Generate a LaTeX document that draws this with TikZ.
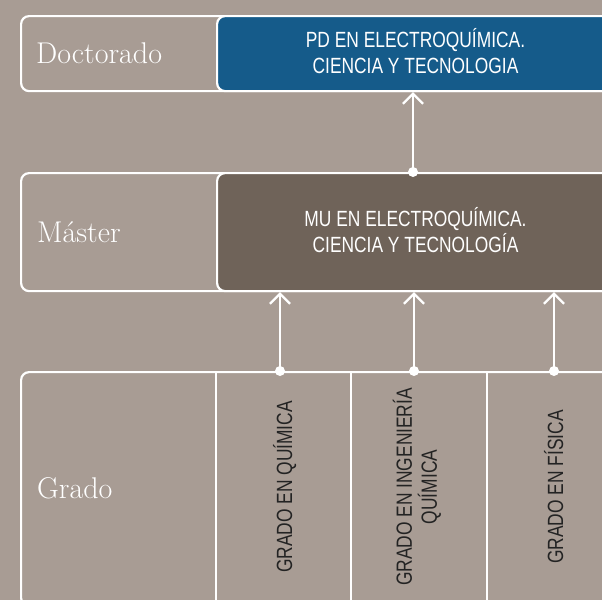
\documentclass[tikz,border=0pt]{standalone}
\usepackage{fontspec}
\usetikzlibrary{arrows.meta}
\newfontfamily\condfont[FakeStretch=0.79]{Liberation Sans}
\definecolor{bgcol}{RGB}{168,156,148}
\definecolor{pdblue}{RGB}{21,91,138}
\definecolor{mubrown}{RGB}{111,99,89}
\definecolor{darktext}{RGB}{35,35,35}
\tikzset{
  rowbox/.style={draw=white, line width=2.2pt, rounded corners=8pt, anchor=north west, inner sep=0pt},
  progbox/.style={rowbox},
  levellabel/.style={anchor=base west, text=white, inner sep=0pt, font=\fontsize{30}{34}\selectfont},
  progtext/.style={text=white, align=center, inner sep=0pt, font={\condfont\fontsize{22}{25.5}\selectfont}},
  gradotext/.style={text=darktext, align=center, inner sep=0pt, rotate=90, font={\condfont\fontsize{22}{25}\selectfont}},
  sepline/.style={draw=white, line width=2.2pt},
  dotnode/.style={circle, fill=white, inner sep=0pt, minimum size=10pt},
  conn/.style={draw=white, line width=2.2pt, -{Straight Barb[length=10pt, width=20pt]}}
}
\begin{document}
\begin{tikzpicture}[x=1pt, y=-1pt]
\clip (0,0) rectangle (602,600);
\fill[bgcol] (0,0) rectangle (602,600);
% Doctorado row
\node[rowbox, minimum width=600pt, minimum height=75pt] (docrow) at (20,15) {};
\node[progbox, fill=pdblue, minimum width=404pt, minimum height=75pt] (pd) at (216,15) {};
\node[levellabel] (doclabel) at (36,63) {Doctorado};
\node[progtext] (pdtext) at (415.5,51) {PD EN ELECTROQUÍMICA.\\CIENCIA Y TECNOLOGIA};
% Master row
\node[rowbox, minimum width=600pt, minimum height=118pt] (masrow) at (20,172) {};
\node[progbox, fill=mubrown, minimum width=404pt, minimum height=118pt] (mu) at (216,172) {};
\node[levellabel] (maslabel) at (37,242) {Máster};
\node[progtext] (mutext) at (415.5,230) {MU EN ELECTROQUÍMICA.\\CIENCIA Y TECNOLOGÍA};
% Grado row
\node[rowbox, minimum width=600pt, minimum height=234pt] (grarow) at (20,371) {};
\coordinate (s1top) at (216,371); \coordinate (s1bot) at (216,605);
\coordinate (s2top) at (351,371); \coordinate (s2bot) at (351,605);
\coordinate (s3top) at (487,371); \coordinate (s3bot) at (487,605);
\draw[sepline] (s1top) -- (s1bot);
\draw[sepline] (s2top) -- (s2bot);
\draw[sepline] (s3top) -- (s3bot);
\node[levellabel] (gralabel) at (37,498) {Grado};
\node[gradotext, anchor=base] (gq) at (292,487) {GRADO EN QUÍMICA};
\node[gradotext] (giq) at (417,487) {GRADO EN INGENIERÍA\\QUÍMICA};
\node[gradotext, anchor=base] (gf) at (563,487) {GRADO EN FÍSICA};
% connectors
\node[dotnode] (dq) at (280,371) {};
\node[dotnode] (diq) at (414,371) {};
\node[dotnode] (df) at (554,371) {};
\node[dotnode] (dmu) at (413,172) {};
\draw[conn] (dq.center) -- (dq.center |- mu.south);
\draw[conn] (diq.center) -- (diq.center |- mu.south);
\draw[conn] (df.center) -- (df.center |- mu.south);
\draw[conn] (dmu.center) -- (dmu.center |- pd.south);
\end{tikzpicture}
\end{document}
